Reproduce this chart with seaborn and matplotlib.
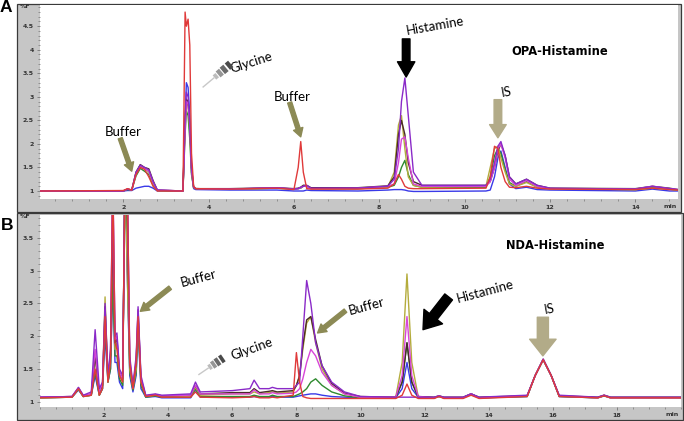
import matplotlib
matplotlib.use("Agg")
import matplotlib.pyplot as plt
from matplotlib.patches import Rectangle
from matplotlib.ticker import MultipleLocator
import numpy as np
import pandas as pd
import seaborn as sns

# ---------------- data ----------------
# panel A : OPA-Histamine, retention time (min) and %F for each trace
a_time = [0.05, 2.0, 2.1, 2.2, 2.3, 2.4, 2.5, 2.6, 2.7, 2.8,
          3.4, 3.45, 3.48, 3.52, 3.56, 3.6, 3.65, 3.7, 4.5, 5.6,
          6.0, 6.1, 6.16, 6.22, 6.3, 6.4, 7.5, 8.2, 8.35, 8.45,
          8.52, 8.6, 8.68, 8.8, 9.0, 10.5, 10.6, 10.7, 10.78, 10.85,
          10.95, 11.05, 11.2, 11.45, 11.7, 12.0, 14.0, 14.4, 14.8, 15.0]
a_red = [1.0, 1.01, 1.05, 1.02, 1.35, 1.5, 1.46, 1.3, 1.1, 1.0,
         1.0, 4.8, 4.5, 4.65, 4.1, 1.8, 1.1, 1.05, 1.04, 1.06,
         1.03, 1.5, 2.05, 1.4, 1.05, 1.04, 1.04, 1.06, 1.15, 1.35,
         1.25, 1.1, 1.06, 1.05, 1.05, 1.06, 1.3, 1.95, 1.9, 1.5,
         1.2, 1.08, 1.07, 1.1, 1.06, 1.04, 1.03, 1.06, 1.03, 1.02]
a_blue = [1.0, 1.0, 1.01, 1.01, 1.06, 1.08, 1.1, 1.1, 1.06, 1.0,
          1.0, 2.5, 3.3, 3.2, 2.6, 1.4, 1.05, 1.03, 1.02, 1.02,
          1.0, 1.0, 1.0, 1.0, 1.02, 1.01, 1.0, 1.02, 1.03, 1.03,
          1.03, 1.02, 1.0, 0.99, 0.99, 1.0, 1.02, 1.3, 1.7, 1.85,
          1.5, 1.15, 1.05, 1.08, 1.03, 1.02, 1.0, 1.04, 1.0, 1.0]
a_purple = [1.0, 1.0, 1.04, 1.02, 1.4, 1.55, 1.5, 1.45, 1.2, 1.02,
            1.0, 2.6, 3.1, 3.0, 2.5, 1.5, 1.08, 1.05, 1.04, 1.07,
            1.04, 1.05, 1.08, 1.1, 1.12, 1.06, 1.06, 1.1, 1.25, 1.9,
            2.9, 3.4, 2.6, 1.4, 1.12, 1.12, 1.25, 1.6, 1.95, 2.05,
            1.75, 1.3, 1.15, 1.25, 1.12, 1.06, 1.04, 1.1, 1.05, 1.03]
a_olive = [1.0, 1.0, 1.04, 1.02, 1.38, 1.55, 1.48, 1.4, 1.15, 1.01,
           1.0, 2.4, 2.9, 2.8, 2.3, 1.4, 1.07, 1.05, 1.04, 1.06,
           1.04, 1.05, 1.07, 1.12, 1.1, 1.05, 1.05, 1.08, 1.4, 2.4,
           2.6, 1.9, 1.3, 1.12, 1.08, 1.1, 1.5, 1.9, 1.95, 1.7,
           1.4, 1.15, 1.1, 1.18, 1.08, 1.05, 1.03, 1.06, 1.04, 1.02]
a_magenta = [1.0, 1.0, 1.04, 1.02, 1.36, 1.52, 1.47, 1.42, 1.18, 1.02,
             1.0, 2.3, 2.9, 2.85, 2.4, 1.45, 1.08, 1.05, 1.04, 1.07,
             1.04, 1.05, 1.07, 1.1, 1.1, 1.05, 1.06, 1.1, 1.15, 1.6,
             2.1, 2.15, 1.7, 1.15, 1.1, 1.1, 1.2, 1.5, 1.9, 2.0,
             1.7, 1.25, 1.12, 1.22, 1.1, 1.05, 1.04, 1.1, 1.05, 1.03]
a_green = [1.0, 1.0, 1.03, 1.02, 1.32, 1.48, 1.42, 1.35, 1.12, 1.01,
           1.0, 2.2, 2.7, 2.6, 2.1, 1.35, 1.07, 1.05, 1.04, 1.06,
           1.04, 1.05, 1.06, 1.1, 1.1, 1.05, 1.05, 1.08, 1.12, 1.3,
           1.5, 1.65, 1.35, 1.12, 1.08, 1.08, 1.3, 1.75, 1.9, 1.8,
           1.45, 1.18, 1.1, 1.2, 1.08, 1.05, 1.03, 1.07, 1.04, 1.02]
a_dark = [1.0, 1.0, 1.04, 1.02, 1.4, 1.56, 1.5, 1.47, 1.22, 1.02,
          1.0, 2.5, 2.95, 2.9, 2.4, 1.5, 1.08, 1.05, 1.05, 1.07,
          1.05, 1.06, 1.08, 1.12, 1.12, 1.07, 1.07, 1.11, 1.3, 2.2,
          2.5, 2.2, 1.6, 1.2, 1.12, 1.12, 1.2, 1.5, 1.85, 2.0,
          1.75, 1.3, 1.15, 1.25, 1.12, 1.06, 1.05, 1.1, 1.06, 1.03]

# panel B : NDA-Histamine
b_time = [0.0, 1.0, 1.2, 1.35, 1.6, 1.72, 1.85, 1.95, 2.03, 2.12,
          2.2, 2.27, 2.34, 2.4, 2.48, 2.58, 2.65, 2.72, 2.8, 2.9,
          3.0, 3.06, 3.15, 3.3, 3.6, 3.8, 4.7, 4.85, 5.0, 6.0,
          6.55, 6.68, 6.85, 7.15, 7.25, 7.4, 7.9, 8.0, 8.1, 8.2,
          8.32, 8.45, 8.6, 8.8, 9.1, 9.5, 10.0, 11.1, 11.3, 11.45,
          11.6, 11.8, 12.3, 12.45, 12.6, 13.2, 13.45, 13.7, 15.2, 15.45,
          15.7, 15.95, 16.2, 17.4, 17.6, 17.8, 20.0]
b_red = [1.06, 1.07, 1.2, 1.08, 1.1, 1.5, 1.1, 1.2, 2.3, 1.3,
         1.6, 4.5, 1.9, 1.8, 1.4, 1.3, 4.5, 4.5, 1.6, 1.2,
         1.6, 2.3, 1.3, 1.08, 1.1, 1.07, 1.07, 1.15, 1.07, 1.06,
         1.07, 1.08, 1.06, 1.06, 1.07, 1.06, 1.1, 1.75, 1.3, 1.08,
         1.06, 1.05, 1.05, 1.05, 1.05, 1.05, 1.05, 1.05, 1.1, 1.27,
         1.1, 1.05, 1.05, 1.08, 1.05, 1.05, 1.1, 1.05, 1.08, 1.4,
         1.64, 1.4, 1.08, 1.06, 1.09, 1.06, 1.06]
b_purple = [1.07, 1.08, 1.22, 1.1, 1.15, 2.1, 1.2, 1.3, 2.5, 1.4,
            1.8, 4.5, 2.0, 2.05, 1.5, 1.4, 4.5, 4.5, 1.7, 1.25,
            1.7, 2.45, 1.4, 1.1, 1.12, 1.1, 1.12, 1.3, 1.15, 1.17,
            1.2, 1.33, 1.2, 1.2, 1.22, 1.2, 1.2, 1.25, 1.3, 2.0,
            2.85, 2.5, 1.9, 1.55, 1.3, 1.15, 1.08, 1.07, 1.07, 1.07,
            1.07, 1.07, 1.07, 1.09, 1.07, 1.07, 1.12, 1.07, 1.1, 1.4,
            1.65, 1.4, 1.1, 1.07, 1.1, 1.07, 1.07]
b_olive = [1.06, 1.07, 1.2, 1.08, 1.1, 1.7, 1.1, 1.25, 2.6, 1.3,
           1.7, 3.3, 1.8, 1.9, 1.4, 1.3, 4.5, 3.0, 1.5, 1.2,
           1.5, 2.3, 1.3, 1.08, 1.1, 1.08, 1.09, 1.22, 1.1, 1.12,
           1.12, 1.15, 1.12, 1.14, 1.15, 1.13, 1.15, 1.25, 1.4, 1.8,
           2.2, 2.3, 1.9, 1.5, 1.25, 1.12, 1.07, 1.07, 1.6, 2.95,
           1.6, 1.08, 1.06, 1.09, 1.06, 1.06, 1.12, 1.06, 1.09, 1.4,
           1.64, 1.4, 1.09, 1.06, 1.1, 1.06, 1.06]
b_magenta = [1.07, 1.08, 1.21, 1.09, 1.12, 1.8, 1.15, 1.28, 2.4, 1.35,
             1.75, 4.5, 1.95, 2.0, 1.45, 1.35, 4.5, 4.5, 1.65, 1.22,
             1.65, 2.4, 1.35, 1.09, 1.11, 1.09, 1.1, 1.25, 1.12, 1.12,
             1.12, 1.18, 1.12, 1.12, 1.14, 1.12, 1.13, 1.15, 1.2, 1.35,
             1.6, 1.8, 1.7, 1.45, 1.25, 1.12, 1.07, 1.07, 1.4, 2.3,
             1.4, 1.08, 1.06, 1.09, 1.06, 1.06, 1.12, 1.06, 1.09, 1.4,
             1.65, 1.4, 1.09, 1.06, 1.1, 1.06, 1.06]
b_green = [1.06, 1.07, 1.19, 1.08, 1.1, 1.45, 1.1, 1.2, 2.2, 1.3,
           1.5, 2.9, 1.7, 1.7, 1.35, 1.25, 4.5, 3.3, 1.45, 1.18,
           1.45, 2.2, 1.25, 1.07, 1.09, 1.07, 1.07, 1.2, 1.08, 1.08,
           1.08, 1.1, 1.08, 1.08, 1.1, 1.08, 1.08, 1.1, 1.12, 1.15,
           1.2, 1.3, 1.35, 1.25, 1.15, 1.09, 1.06, 1.06, 1.3, 1.9,
           1.3, 1.07, 1.06, 1.08, 1.06, 1.06, 1.11, 1.06, 1.08, 1.4,
           1.64, 1.4, 1.08, 1.06, 1.09, 1.06, 1.06]
b_blue = [1.06, 1.07, 1.18, 1.08, 1.1, 1.4, 1.1, 1.2, 2.0, 1.3,
          1.5, 2.8, 1.6, 1.6, 1.3, 1.2, 4.5, 3.0, 1.4, 1.15,
          1.4, 2.1, 1.2, 1.07, 1.08, 1.06, 1.06, 1.18, 1.07, 1.07,
          1.07, 1.08, 1.07, 1.07, 1.08, 1.07, 1.07, 1.08, 1.09, 1.1,
          1.11, 1.12, 1.12, 1.1, 1.08, 1.07, 1.06, 1.06, 1.2, 1.6,
          1.2, 1.07, 1.06, 1.08, 1.06, 1.06, 1.12, 1.06, 1.08, 1.4,
          1.64, 1.4, 1.08, 1.06, 1.09, 1.06, 1.06]
b_dark = [1.07, 1.08, 1.21, 1.09, 1.12, 1.7, 1.15, 1.25, 2.45, 1.35,
          1.7, 3.6, 1.9, 1.95, 1.45, 1.35, 4.5, 4.0, 1.6, 1.22,
          1.6, 2.4, 1.35, 1.09, 1.11, 1.09, 1.1, 1.25, 1.12, 1.14,
          1.14, 1.2, 1.14, 1.16, 1.17, 1.15, 1.17, 1.25, 1.4, 1.85,
          2.25, 2.3, 1.95, 1.55, 1.28, 1.13, 1.08, 1.07, 1.3, 1.9,
          1.3, 1.08, 1.07, 1.09, 1.07, 1.07, 1.12, 1.07, 1.09, 1.4,
          1.65, 1.4, 1.09, 1.07, 1.1, 1.07, 1.07]

a_yticks = [1, 1.5, 2, 2.5, 3, 3.5, 4, 4.5]
a_xticks = [2, 4, 6, 8, 10, 12, 14]
b_yticks = [1, 1.5, 2, 2.5, 3, 3.5]
b_xticks = [2, 4, 6, 8, 10, 12, 14, 16, 18]

palette = {"blue": "#3a3ae8", "green": "#2f8a2f", "olive": "#b4ac3c",
           "dark": "#4a2a2a", "magenta": "#d845d8", "purple": "#8a2ac8",
           "red": "#e03a3a"}
order = ["blue", "green", "olive", "dark", "magenta", "purple", "red"]


def long_table(time, traces):
    rows = []
    for name, vals in traces.items():
        rows.append(pd.DataFrame({"time": time, "signal": vals, "trace": name}))
    return pd.concat(rows, ignore_index=True)


df_a = long_table(a_time, {"red": a_red, "blue": a_blue, "purple": a_purple,
                           "olive": a_olive, "magenta": a_magenta,
                           "green": a_green, "dark": a_dark})
df_b = long_table(b_time, {"red": b_red, "blue": b_blue, "purple": b_purple,
                           "olive": b_olive, "magenta": b_magenta,
                           "green": b_green, "dark": b_dark})

W, H = 684, 421


def fx(x):
    return x / W


def fy(y):
    return 1 - y / H


fig = plt.figure(figsize=(W / 100, H / 100), dpi=100)
fig.patch.set_facecolor("white")

# gray instrument frames
for x0, y0, x1, y1 in [(17, 4, 681, 212), (17, 213, 683, 420)]:
    fig.add_artist(Rectangle((fx(x0), fy(y1)), fx(x1 - x0), (y1 - y0) / H,
                             transform=fig.transFigure, facecolor="#c6c6c6",
                             edgecolor="#3a3a3a", lw=0.9, zorder=-5))

ax_a = fig.add_axes([fx(40), fy(199), fx(638), 194 / H])
ax_b = fig.add_axes([fx(40), fy(407), fx(641), 192 / H])

for ax, df, xlim, ylim, xt, yt, xminor in [
        (ax_a, df_a, (0.05, 15.0), (0.83, 4.95), a_xticks, a_yticks, 0.4),
        (ax_b, df_b, (0.0, 20.0), (0.92, 3.85), b_xticks, b_yticks, 0.5)]:
    sns.lineplot(data=df, x="time", y="signal", hue="trace", hue_order=order,
                 palette=palette, estimator=None, sort=False, legend=False,
                 linewidth=1.0, ax=ax)
    ax.set_xlim(*xlim)
    ax.set_ylim(*ylim)
    ax.set_facecolor("white")
    ax.set_xlabel("")
    ax.set_ylabel("")
    ax.set_xticks(xt)
    ax.set_xticklabels([str(v) for v in xt])
    ax.set_yticks(yt)
    ax.set_yticklabels([("%g" % v) for v in yt])
    ax.xaxis.set_minor_locator(MultipleLocator(xminor))
    ax.yaxis.set_minor_locator(MultipleLocator(0.1))
    ax.tick_params(which="both", direction="out", color="#777777",
                   labelsize=4.5, labelcolor="#333333", pad=2)
    ax.tick_params(which="major", length=2.5, width=0.6)
    ax.tick_params(which="minor", length=1.5, width=0.5)
    for lab in ax.get_xticklabels() + ax.get_yticklabels():
        lab.set_fontweight("bold")
    for sp in ax.spines.values():
        sp.set_visible(False)

# axis unit labels
fig.text(fx(25), fy(7), "%F", fontsize=4.5, fontweight="bold", color="#333333",
         ha="center", va="center")
fig.text(fx(670), fy(206), "min", fontsize=4.5, fontweight="bold", color="#333333",
         ha="center", va="center")
fig.text(fx(25), fy(216), "%F", fontsize=4.5, fontweight="bold", color="#333333",
         ha="center", va="center")
fig.text(fx(672), fy(414), "min", fontsize=4.5, fontweight="bold", color="#333333",
         ha="center", va="center")

# panel letters
fig.text(fx(6), fy(8), "A", fontsize=12.5, fontweight="bold", family="Liberation Sans",
         ha="center", va="center")
fig.text(fx(7), fy(226), "B", fontsize=12.5, fontweight="bold", family="Liberation Sans",
         ha="center", va="center")

OLIVE = "#8c8a55"
KHAKI = "#b2ab88"
label_font = dict(family="Lato", fontsize=9.5, color="black")


def block_arrow(ax, tail, head, color, tw, hw, hl):
    ax.annotate("", xy=head, xytext=tail,
                arrowprops=dict(arrowstyle="simple,head_length=%s,head_width=%s,tail_width=%s"
                                % (hl, hw, tw), color=color, shrinkA=0, shrinkB=0,
                                mutation_scale=1))


def fade_arrow(ax, tail, head):
    # blurred grey pointer used for the glycine label
    tx, ty = tail
    hx, hy = head
    pieces = [(0.0, 0.12, "#4a4a4a", 6), (0.17, 0.3, "#6a6a6a", 6),
              (0.33, 0.45, "#959595", 5.5), (0.48, 0.58, "#bcbcbc", 4),
              (0.58, 1.0, "#c8c8c8", 1.0)]
    for s, e, c, lw in pieces:
        ax.plot([tx + (hx - tx) * s, tx + (hx - tx) * e],
                [ty + (hy - ty) * s, ty + (hy - ty) * e],
                color=c, lw=lw, solid_capstyle="butt", zorder=5)


# panel A annotations
ax_a.text(2.0, 2.26, "Buffer", ha="center", va="center", **label_font)
block_arrow(ax_a, (1.93, 2.12), (2.2, 1.42), OLIVE, 3, 7, 6)
ax_a.text(5.0, 3.72, "Glycine", ha="center", va="center", rotation=18, **label_font)
fade_arrow(ax_a, (4.52, 3.7), (3.86, 3.2))
ax_a.text(5.95, 3.0, "Buffer", ha="center", va="center", **label_font)
block_arrow(ax_a, (5.9, 2.88), (6.16, 2.15), OLIVE, 3, 7, 6)
ax_a.text(9.3, 4.5, "Histamine", ha="center", va="center", rotation=10, **label_font)
block_arrow(ax_a, (8.63, 4.23), (8.63, 3.42), "black", 5.5, 12.5, 11)
ax_a.text(10.98, 3.1, "IS", ha="center", va="center", rotation=10, **label_font)
block_arrow(ax_a, (10.78, 2.94), (10.78, 2.13), KHAKI, 5.5, 12, 9.5)
ax_a.text(12.23, 3.96, "OPA-Histamine", ha="center", va="center",
          fontsize=8.3, fontweight="bold", family="DejaVu Sans")

# panel B annotations
ax_b.text(4.94, 2.89, "Buffer", ha="center", va="center", rotation=15, **label_font)
block_arrow(ax_b, (4.06, 2.74), (3.13, 2.38), OLIVE, 3, 7, 6)
ax_b.text(6.6, 1.8, "Glycine", ha="center", va="center", rotation=20, **label_font)
fade_arrow(ax_b, (5.72, 1.67), (4.94, 1.41))
ax_b.text(10.2, 2.45, "Buffer", ha="center", va="center", rotation=15, **label_font)
block_arrow(ax_b, (9.53, 2.39), (8.66, 2.05), OLIVE, 3, 7, 6)
ax_b.text(13.9, 2.68, "Histamine", ha="center", va="center", rotation=15, **label_font)
block_arrow(ax_b, (12.75, 2.6), (11.95, 2.1), "black", 7, 17, 12)
ax_b.text(15.9, 2.42, "IS", ha="center", va="center", rotation=10, **label_font)
block_arrow(ax_b, (15.69, 2.29), (15.69, 1.7), KHAKI, 8, 19, 12)
ax_b.text(16.06, 3.38, "NDA-Histamine", ha="center", va="center",
          fontsize=8.3, fontweight="bold", family="DejaVu Sans")

fig.savefig("out.png", dpi=100)
